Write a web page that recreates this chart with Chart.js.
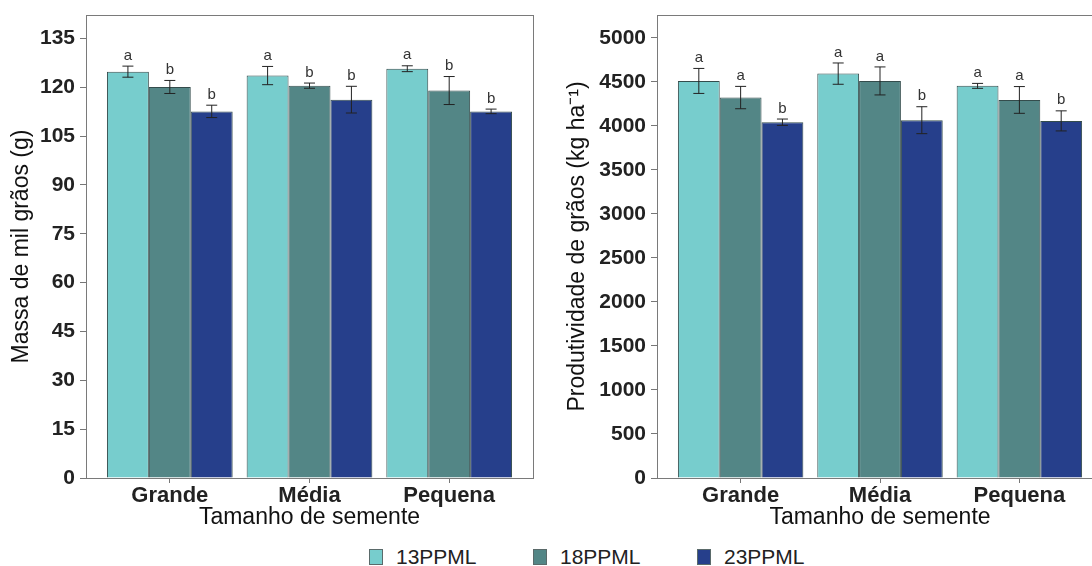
<!DOCTYPE html>
<html>
<head>
<meta charset="utf-8">
<script src="https://cdn.jsdelivr.net/npm/chart.js@4.4.1/dist/chart.umd.min.js"></script>
<style>
  html, body { margin: 0; padding: 0; background: #fff; width: 1092px; height: 566px; overflow: hidden; }
  #wrap { position: relative; width: 1092px; height: 566px; overflow: hidden; }
  canvas { position: absolute; top: 0; }
  #massaChart { left: 0; }
  #prodChart { left: 546px; }
  #legend { position: absolute; left: 369px; top: 545px; display: flex; font: 21px "Liberation Sans", Arial, sans-serif; color: #222; }
  .item { display: flex; align-items: center; width: 164px; }
  .box { width: 14px; height: 16px; border: 1px solid #5a6a6a; margin-right: 13px; box-sizing: border-box; }
</style>
</head>
<body>
<div id="wrap">
  <canvas id="massaChart" width="546" height="540"></canvas>
  <canvas id="prodChart" width="570" height="540"></canvas>
  <div id="legend"></div>
</div>
<script>
// categorias e séries
const categories = ['Grande', 'Média', 'Pequena'];
const seriesNames = ['13PPML', '18PPML', '23PPML'];
const seriesColors = ['#77cdcd', '#538686', '#263f8b'];

// Massa de mil grãos (g)
const massa13 = [124.8, 123.6, 125.7];
const massa18 = [120.1, 120.5, 119.0];
const massa23 = [112.6, 116.2, 112.6];
const massaErr13 = [1.7, 2.8, 0.9];
const massaErr18 = [2.0, 0.8, 4.3];
const massaErr23 = [1.9, 4.1, 0.7];
const massaLetras13 = ['a', 'a', 'a'];
const massaLetras18 = ['b', 'b', 'b'];
const massaLetras23 = ['b', 'b', 'b'];
const massaTicks = [0, 15, 30, 45, 60, 75, 90, 105, 120, 135];

// Produtividade de grãos (kg ha-1)
const prod13 = [4511, 4594, 4455];
const prod18 = [4322, 4511, 4295];
const prod23 = [4042, 4065, 4057];
const prodErr13 = [142, 121, 28];
const prodErr18 = [127, 159, 152];
const prodErr23 = [36, 153, 114];
const prodLetras13 = ['a', 'a', 'a'];
const prodLetras18 = ['a', 'a', 'a'];
const prodLetras23 = ['b', 'b', 'b'];
const prodTicks = [0, 500, 1000, 1500, 2000, 2500, 3000, 3500, 4000, 4500, 5000];

const FONT = '"Liberation Sans", Arial, sans-serif';

// barras de erro + letras
const errorBarsPlugin = {
  id: 'errorBars',
  afterDatasetsDraw(chart) {
    const ctx = chart.ctx;
    const yScale = chart.scales.y;
    ctx.save();
    chart.data.datasets.forEach((ds, i) => {
      const meta = chart.getDatasetMeta(i);
      meta.data.forEach((bar, j) => {
        const v = ds.data[j].y;
        const e = ds.errors[j];
        const yTop = yScale.getPixelForValue(v + e);
        const yBot = yScale.getPixelForValue(v - e);
        ctx.strokeStyle = '#222';
        ctx.lineWidth = 1;
        ctx.beginPath();
        ctx.moveTo(bar.x, yTop);
        ctx.lineTo(bar.x, yBot);
        ctx.moveTo(bar.x - 5.5, yTop);
        ctx.lineTo(bar.x + 5.5, yTop);
        ctx.moveTo(bar.x - 5.5, yBot);
        ctx.lineTo(bar.x + 5.5, yBot);
        ctx.stroke();
        ctx.fillStyle = '#333';
        ctx.font = '15px ' + FONT;
        ctx.textAlign = 'center';
        ctx.textBaseline = 'bottom';
        ctx.fillText(ds.letters[j], bar.x, yTop - 3);
      });
    });
    ctx.restore();
  }
};

// moldura do painel
const framePlugin = {
  id: 'frame',
  afterDraw(chart) {
    const {ctx, chartArea: a} = chart;
    ctx.save();
    ctx.strokeStyle = '#7a7a7a';
    ctx.lineWidth = 1;
    ctx.strokeRect(a.left + 0.5, a.top + 0.5, a.right - a.left, a.bottom - a.top);
    ctx.restore();
  }
};

function makeChart(id, values, errors, letters, yTicks, yMax, yTitle, yWidth, titlePad, rightPad) {
  const ctx = document.getElementById(id).getContext('2d');
  return new Chart(ctx, {
    type: 'bar',
    data: {
      datasets: seriesNames.map((name, s) => ({
        label: name,
        data: categories.map((c, i) => ({ x: i + 1, y: values[s][i] })),
        errors: errors[s],
        letters: letters[s],
        backgroundColor: seriesColors[s],
        borderColor: '#344c4c',
        borderWidth: 1,
        categoryPercentage: 0.9,
        barPercentage: 1.0,
      })),
    },
    options: {
      responsive: false,
      animation: false,
      layout: { padding: { top: 15, right: rightPad, bottom: 0, left: 0 } },
      plugins: { legend: { display: false }, tooltip: { enabled: false } },
      scales: {
        x: {
          type: 'linear',
          min: 0.4,
          max: 3.6,
          offset: false,
          afterBuildTicks: (s) => { s.ticks = categories.map((c, i) => ({ value: i + 1 })); },
          afterFit: (s) => { s.height = 62; s.paddingLeft = 0; s.paddingRight = 0; },
          ticks: {
            callback: (v) => categories[v - 1],
            font: { family: FONT, size: 22, weight: 'bold' },
            color: '#222',
            padding: 0,
            maxRotation: 0,
            autoSkip: false,
          },
          grid: { offset: false, drawOnChartArea: false, tickLength: 5, color: '#777' },
          border: { color: '#777' },
          title: {
            display: true,
            text: 'Tamanho de semente',
            font: { family: FONT, size: 23 },
            color: '#111',
            padding: { top: 0, bottom: 8.2 },
          },
        },
        y: {
          min: 0,
          max: yMax,
          afterBuildTicks: (s) => { s.ticks = yTicks.map((v) => ({ value: v })); },
          afterFit: (s) => { s.width = yWidth; s.paddingTop = 0; s.paddingBottom = 0; },
          ticks: {
            callback: (v) => String(v),
            font: { family: FONT, size: 21, weight: 'bold' },
            color: '#222',
            padding: 5,
          },
          grid: { drawOnChartArea: false, tickLength: 6, color: '#777' },
          border: { color: '#777' },
          title: {
            display: true,
            text: yTitle,
            font: { family: FONT, size: 23 },
            color: '#111',
            padding: { top: titlePad, bottom: 0 },
          },
        },
      },
    },
    plugins: [errorBarsPlugin, framePlugin],
  });
}

makeChart('massaChart',
  [massa13, massa18, massa23],
  [massaErr13, massaErr18, massaErr23],
  [massaLetras13, massaLetras18, massaLetras23],
  massaTicks, 142.2, 'Massa de mil grãos (g)', 86, 8.2, 13);

makeChart('prodChart',
  [prod13, prod18, prod23],
  [prodErr13, prodErr18, prodErr23],
  [prodLetras13, prodLetras18, prodLetras23],
  prodTicks, 5260, 'Produtividade de grãos (kg ha⁻¹)', 111, 18.2, 13);

// legenda comum
const legend = document.getElementById('legend');
seriesNames.forEach((name, s) => {
  const item = document.createElement('div');
  item.className = 'item';
  const box = document.createElement('span');
  box.className = 'box';
  box.style.background = seriesColors[s];
  const label = document.createElement('span');
  label.textContent = name;
  item.appendChild(box);
  item.appendChild(label);
  legend.appendChild(item);
});
</script>
</body>
</html>
